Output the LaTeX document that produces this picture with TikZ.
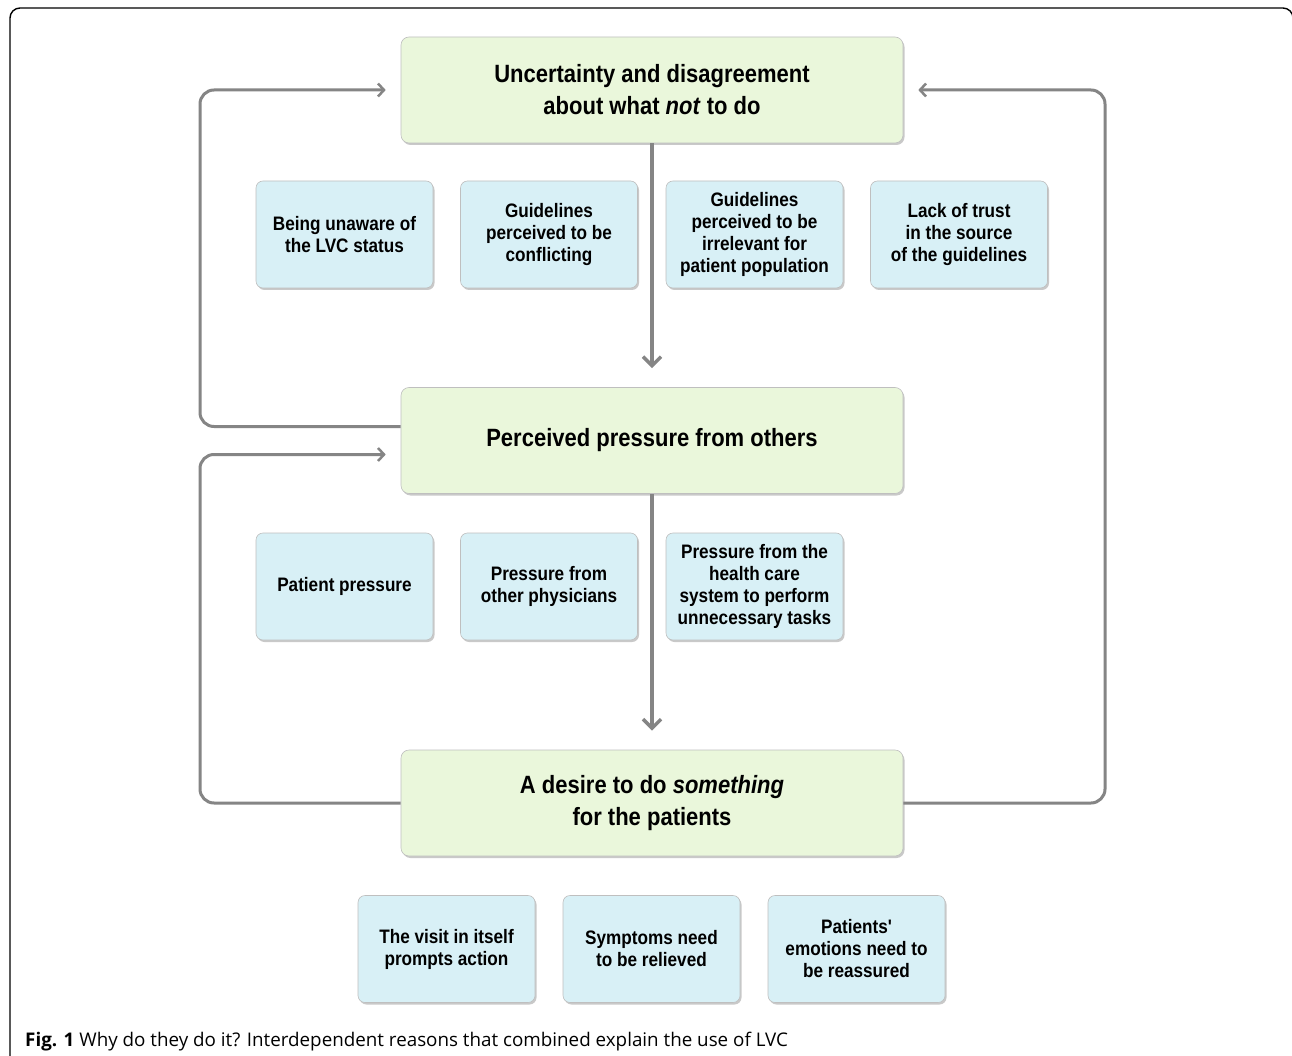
\documentclass[tikz,border=0pt]{standalone}
\usepackage{fontspec}
\setmainfont{Liberation Sans}
\newfontfamily\boxfont[FakeStretch=0.88]{Liberation Sans}
\newfontfamily\capfont{Open Sans}
\usetikzlibrary{arrows.meta,shadows,calc}
\definecolor{mainfill}{HTML}{EAF7DB}
\definecolor{subfill}{HTML}{D8F0F6}
\definecolor{connc}{HTML}{858585}
\tikzset{
  mainbox/.style={rectangle, rounded corners=8pt, fill=mainfill, draw=black!25, line width=0.6pt,
    minimum width=502pt, minimum height=106pt, align=center, inner sep=0pt,
    font=\boxfont\bfseries\fontsize{25}{32}\selectfont,
    drop shadow={shadow xshift=1.5pt, shadow yshift=-2pt, opacity=0.35, fill=black!60}},
  subbox/.style={rectangle, rounded corners=7pt, fill=subfill, draw=black!25, line width=0.6pt,
    minimum width=177pt, minimum height=107pt, align=center, inner sep=0pt,
    font=\boxfont\bfseries\fontsize{19.5}{22}\selectfont,
    drop shadow={shadow xshift=1.5pt, shadow yshift=-2pt, opacity=0.35, fill=black!60}},
  vline/.style={draw=connc, line width=4.5pt, -{Straight Barb[length=9pt, width=18pt, line width=3.5pt]}, shorten >=19pt},
  loopline/.style={draw=connc, line width=3pt, rounded corners=14pt, -{Straight Barb[length=6pt, width=13pt, line width=2.5pt]}, shorten >=15pt},
  frame/.style={draw=black, line width=1.4pt, rounded corners=10pt}
}
\begin{document}
\begin{tikzpicture}[x=1pt, y=-1pt]
\useasboundingbox (0,0) rectangle (1292,1056);
\fill[white] (0,0) rectangle (1292,1056);
\draw[frame] (10,1060) -- (10,8) -- (1293,8) -- (1293,1060);

\node[mainbox] (b1) at (652,90) {Uncertainty and disagreement\\about what \textit{not} to do};
\node[mainbox] (b2) at (652,440.5) {Perceived pressure from others};
\node[mainbox] (b3) at (652,803) {A desire to do \textit{something}\\for the patients};

\node[subbox] (s11) at (344.5,234.5) {Being unaware of\\the LVC status};
\node[subbox] (s12) at (549,234.5) {Guidelines\\perceived to be\\conflicting};
\node[subbox] (s13) at (754.5,234.5) {Guidelines\\perceived to be\\irrelevant for\\patient population};
\node[subbox] (s14) at (959,234.5) {Lack of trust\\in the source\\of the guidelines};

\node[subbox] (s21) at (344.5,586.5) {Patient pressure};
\node[subbox] (s22) at (549,586.5) {Pressure from\\other physicians};
\node[subbox] (s23) at (754.5,586.5) {Pressure from the\\health care\\system to perform\\unnecessary tasks};

\node[subbox] (s31) at (446.5,949) {The visit in itself\\prompts action};
\node[subbox] (s32) at (651.5,949) {Symptoms need\\to be relieved};
\node[subbox] (s33) at (856.5,949) {Patients'\\emotions need to\\be reassured};

\coordinate (L) at (200,0);
\coordinate (R) at (1105,0);
\coordinate (b2out) at ($(b2.west)+(0,-14)$);
\coordinate (b2in) at ($(b2.west)+(0,14)$);

\draw[vline] (b1.south) -- (b2.north);
\draw[vline] (b2.south) -- (b3.north);

\draw[loopline] (b2out) -| (L |- b1.west) -- (b1.west);
\draw[loopline] (b3.west) -| (L |- b2in) -- (b2in);
\draw[loopline] (b3.east) -| (R |- b1.east) -- (b1.east);

\node[anchor=base west, inner sep=0pt, font=\capfont\fontsize{18.8}{22}\selectfont] (cap) at (25,1046)
  {\textbf{Fig. 1} Why do they do it? Interdependent reasons that combined explain the use of LVC};
\end{tikzpicture}
\end{document}
